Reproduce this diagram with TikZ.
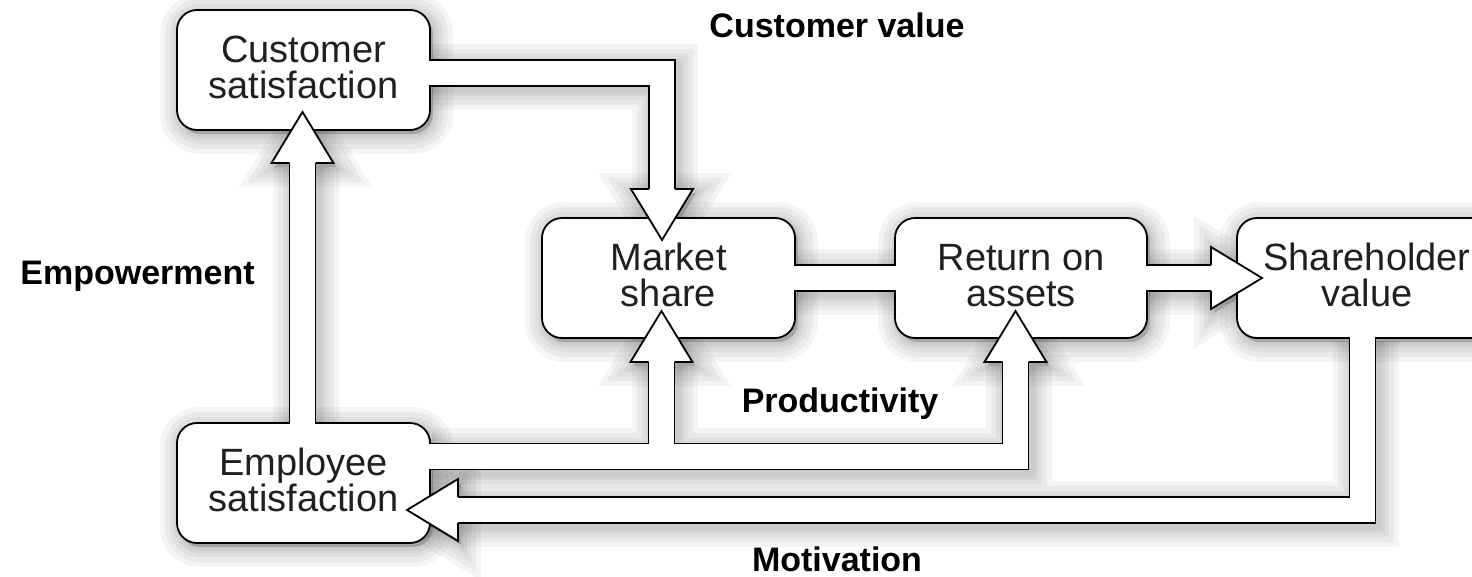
\documentclass[tikz,border=0pt]{standalone}
\usepackage{fontspec}
\setmainfont{Liberation Sans}
\usetikzlibrary{calc}
\pgfdeclarelayer{bg}
\pgfsetlayers{bg,main}
\definecolor{txt}{HTML}{231F20}
\def\bandpaths{(cv0) -- (cv1) -- (cvb) (em0) -- (emb) (pr0) -- (pr1) -- (prb) (pj) -- (pmb) (mr0) -- (mr1) (rs0) -- (rsb) (mo0) -- (mo1) -- (mob)}
\newcommand\allheads[1]{%
  \pic[rotate=180] at (cvb) {#1};
  \pic at (emb) {#1};
  \pic at (prb) {#1};
  \pic at (pmb) {#1};
  \pic[rotate=-90] at (rsb) {#1};
  \pic[rotate=90] at (mob) {#1};
}
\begin{document}
\begin{tikzpicture}[x=1pt,y=-1pt,
  box/.style={draw=black, line width=1.8pt, fill=white, rounded corners=20pt,
    minimum width=253pt, minimum height=120pt, inner sep=0pt, outer sep=0pt,
    align=center, font=\fontsize{38}{36}\selectfont, text=txt, text depth=6pt},
  lbl/.style={font=\fontsize{34}{40}\selectfont\bfseries, text=black, anchor=base, inner sep=0pt},
  bandout/.style={line width=27.8pt, draw=black, line join=miter},
  bandin/.style={line width=24.2pt, draw=white, line join=miter},
  outl/.style={line width=1.8pt, draw=black, line join=miter},
  shd/.style={draw=black, fill=black, opacity=0.045},
  fathead/.pic={\fill[white] (-31,0) -- (0,-51) -- (31,0) -- cycle;
    \draw[outl] (-13,0) -- (-31,0) -- (0,-51) -- (31,0) -- (13,0);},
  headshadow/.pic={\foreach \w in {40,30,20,12,6}{\filldraw[shd, line width=\w pt] (-31,0) -- (0,-51) -- (31,0) -- cycle;}},
]
\useasboundingbox (0,0) rectangle (1472,576);
\clip (0,0) rectangle (1472,576);

% boxes
\node[box] (cs) at (303.5,70) {Customer\\satisfaction};
\node[box] (es) at (303.5,483) {Employee\\satisfaction};
\node[box] (ms) at (668.5,278) {Market\\share};
\node[box, minimum width=252pt] (ra) at (1021,278) {Return on\\assets};
\node[box, minimum width=260pt] (sv) at (1367,278) {Shareholder\\value};

% connector geometry
\coordinate (cv0) at ($(cs.east)+(-1,3)$);
\coordinate (cvb) at ($(ms.north)+(-6.5,-29)$);
\coordinate (cv1) at (cvb |- cv0);
\coordinate (em0) at ($(es.north)+(-1,1)$);
\coordinate (emb) at ($(cs.south)+(-1,33)$);
\coordinate (pr0) at ($(es.east)+(-1,-26.5)$);
\coordinate (prb) at ($(ra.south)+(-5.5,24)$);
\coordinate (pr1) at (prb |- pr0);
\coordinate (pmb) at ($(ms.south)+(-7,24)$);
\coordinate (pj) at (pmb |- pr0);
\coordinate (mr0) at ($(ms.east)+(-1,0)$);
\coordinate (mr1) at ($(ra.west)+(1,0)$);
\coordinate (rs0) at ($(ra.east)+(-1,0)$);
\coordinate (rsb) at ($(sv.west)+(-26,0)$);
\coordinate (mo0) at ($(sv.south)+(-4.5,-1)$);
\coordinate (mob) at ($(es.east)+(28,27)$);
\coordinate (mo1) at (mo0 |- mob);

% shadows
\begin{pgfonlayer}{bg}
\begin{scope}[transform canvas={xshift=3pt,yshift=-4pt}]
  \foreach \w in {40,30,20,12,6} {
    \draw[shd, fill=none, line width=(26+\w)*1pt] \bandpaths;
    \foreach \n in {cs,es,ms,ra,sv}
      \draw[shd, line width=\w pt, rounded corners=20pt] (\n.south west) rectangle (\n.north east);
  }
  \allheads{headshadow}
\end{scope}
\end{pgfonlayer}

% fat connectors
\draw[bandout] \bandpaths;
\draw[bandin] \bandpaths;
\allheads{fathead}

% labels
\node[lbl] (lcv) at (837,37) {Customer value};
\node[lbl] (lem) at (137.5,284) {Empowerment};
\node[lbl] (lpr) at (840,412) {Productivity};
\node[lbl] (lmo) at (837,571) {Motivation};
\end{tikzpicture}
\end{document}
